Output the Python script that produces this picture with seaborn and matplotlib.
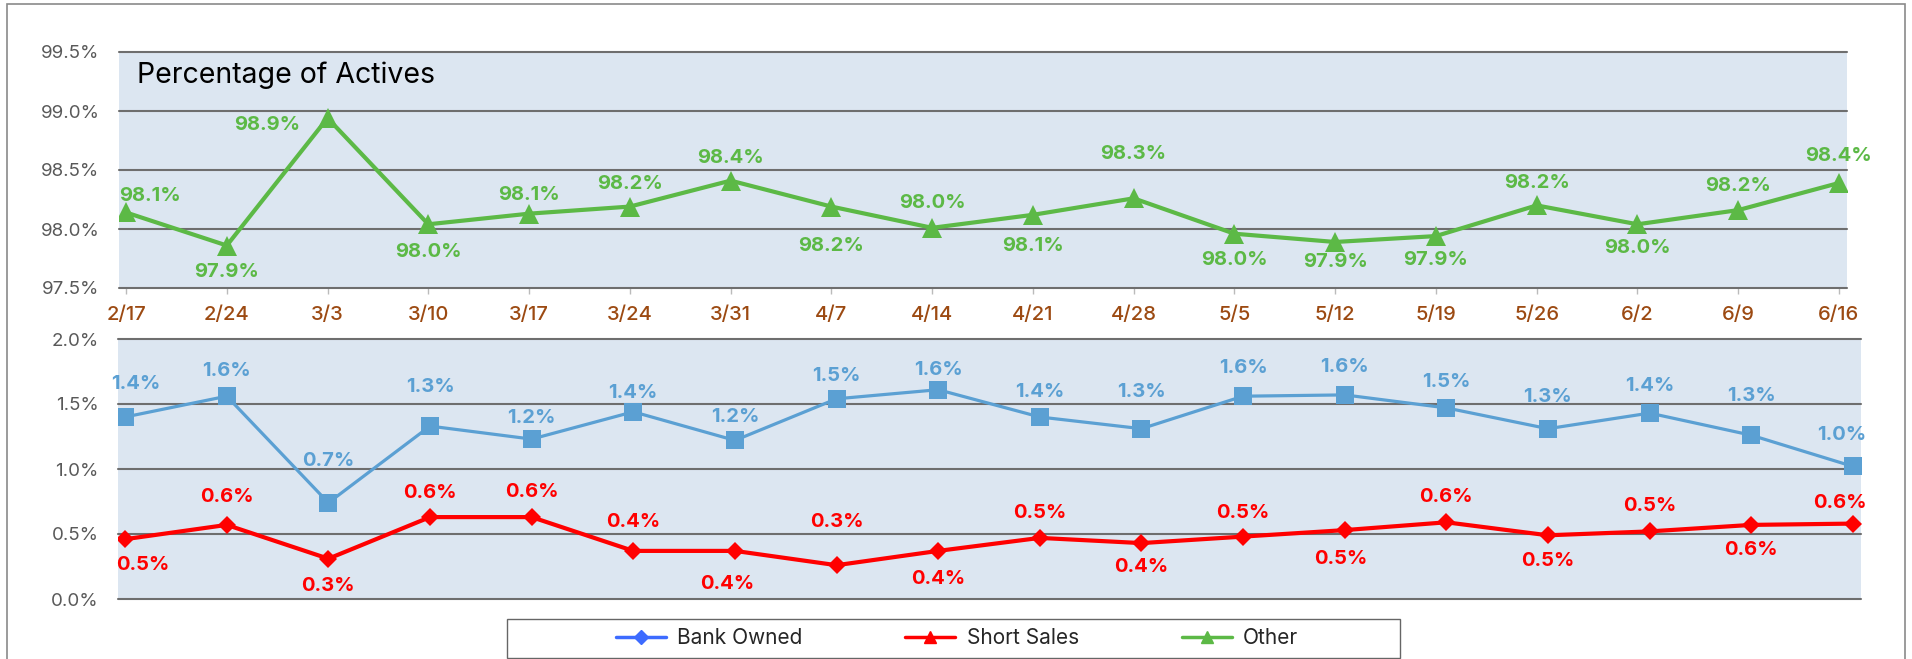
import pandas as pd
import matplotlib
matplotlib.use('Agg')
import matplotlib.pyplot as plt
import seaborn as sns
from matplotlib.lines import Line2D
from matplotlib.patches import Rectangle

# weekly share of active listings (%)
weeks = ['2/17', '2/24', '3/3', '3/10', '3/17', '3/24', '3/31', '4/7', '4/14',
         '4/21', '4/28', '5/5', '5/12', '5/19', '5/26', '6/2', '6/9', '6/16']
other = [98.14, 97.86, 98.94, 98.04, 98.13, 98.19, 98.41, 98.19, 98.01,
         98.12, 98.26, 97.96, 97.89, 97.94, 98.20, 98.04, 98.16, 98.39]
bank_owned = [1.40, 1.56, 0.74, 1.33, 1.23, 1.44, 1.22, 1.54, 1.61,
              1.40, 1.31, 1.56, 1.57, 1.47, 1.31, 1.43, 1.26, 1.02]
short_sales = [0.46, 0.57, 0.31, 0.63, 0.63, 0.37, 0.37, 0.26, 0.37,
               0.47, 0.43, 0.48, 0.53, 0.59, 0.49, 0.52, 0.57, 0.58]

top_ticks = [97.5, 98.0, 98.5, 99.0, 99.5]
bottom_ticks = [0.0, 0.5, 1.0, 1.5, 2.0]

# label offsets in pixels (dx, dy with dy downward), as placed in the original
other_off = [(24, -16), (0, 26), (-60, 7), (0, 28), (0, -19), (0, -23), (0, -23), (0, 39), (0, -25),
             (0, 31), (0, -44), (0, 26), (0, 20), (0, 24), (0, -22), (0, 24), (0, -24), (0, -27)]
bank_off = [(11, -33), (0, -25), (0, -42), (0, -39), (0, -21), (0, -19), (0, -23), (0, -23), (0, -20),
            (0, -25), (0, -37), (0, -28), (0, -28), (0, -26), (0, -32), (0, -27), (0, -39), (-11, -31)]
short_off = [(18, 26), (0, -28), (0, 27), (0, -24), (0, -25), (0, -29), (-8, 33), (0, -43), (0, 28),
             (0, -25), (0, 24), (0, -24), (-4, 29), (0, -25), (0, 26), (0, -25), (0, 25), (-13, -21)]

df = pd.DataFrame({'week': weeks, 'Other': other,
                   'Bank Owned': bank_owned, 'Short Sales': short_sales})

sns.set_theme(style='white')
plt.rcParams['font.family'] = ['Inter', 'DejaVu Sans']

GREEN = '#5cb946'
BLUE = '#5ba0d3'
RED = '#ff0000'
BG = '#dce6f1'
GRID = '#6e6e6e'

W, H = 1912, 659
fig = plt.figure(figsize=(W / 100, H / 100), dpi=100)


def px_axes(left, top, right, bottom):
    return fig.add_axes([left / W, 1 - bottom / H, (right - left) / W, (bottom - top) / H])


ax1 = px_axes(119, 52, 1847, 288)
ax2 = px_axes(118, 339, 1861, 599)


def style_axis(ax, ticks):
    ax.set_facecolor(BG)
    for s in ax.spines.values():
        s.set_visible(False)
    ax.set_ylim(ticks[0], ticks[-1])
    ax.set_yticks(ticks)
    ax.set_yticklabels([f'{t:.1f}%' for t in ticks], fontsize=13.5, color='#595959')
    ax.tick_params(axis='y', length=0, pad=14)
    for t in ticks:
        ax.axhline(t, color=GRID, lw=1.5, clip_on=False, zorder=1)
    ax.set_xlim(-0.07, len(weeks) - 1 + 0.08)
    ax.set_xlabel('')
    ax.set_ylabel('')


def labels(ax, vals, offs, color):
    for i, (v, (dx, dy)) in enumerate(zip(vals, offs)):
        ax.annotate(f'{v:.1f}%', (i, v), xytext=(dx, -dy), textcoords='offset pixels',
                    ha='center', va='center', fontsize=14.5, fontweight='bold', color=color,
                    annotation_clip=False, zorder=5)


sns.lineplot(data=df, x='week', y='Other', ax=ax1, sort=False, color=GREEN, lw=3,
             marker='^', markersize=14, markeredgewidth=0, zorder=3)
style_axis(ax1, top_ticks)
ax1.set_xticks(range(len(weeks)))
ax1.set_xticklabels(weeks, fontsize=14.5, color='#9c4a12', fontweight='medium')
ax1.tick_params(axis='x', length=4, width=1, color='#bbbbbb', pad=9, bottom=True)
labels(ax1, other, other_off, GREEN)

sns.lineplot(data=df, x='week', y='Bank Owned', ax=ax2, sort=False, color=BLUE, lw=2.3,
             marker='s', markersize=13, markeredgewidth=0, zorder=3)
sns.lineplot(data=df, x='week', y='Short Sales', ax=ax2, sort=False, color=RED, lw=3,
             marker='D', markersize=9.5, markeredgewidth=0, zorder=3)
style_axis(ax2, bottom_ticks)
ax2.set_xticks([])
labels(ax2, bank_owned, bank_off, BLUE)
labels(ax2, short_sales, short_off, RED)

fig.text(137 / W, 1 - 75 / H, 'Percentage of Actives', fontsize=20.5, color='black',
         ha='left', va='center')

# legend
handles = [
    Line2D([], [], color='#3d6bff', lw=2.5, marker='D', markersize=7),
    Line2D([], [], color=RED, lw=2.5, marker='^', markersize=8),
    Line2D([], [], color=GREEN, lw=2.5, marker='^', markersize=8),
]
fig.legend(handles, ['Bank Owned', 'Short Sales', 'Other'], ncol=3, frameon=False,
           loc='center', bbox_to_anchor=(957 / W, 1 - 638 / H), fontsize=15,
           handlelength=2.4, handletextpad=0.53, columnspacing=4.95)
fig.patches.append(Rectangle((507 / W, 1 - 658 / H), (1400 - 507) / W, (658 - 619) / H,
                             transform=fig.transFigure, fill=False, ec='#666666', lw=1))

# outer chart frame (bottom edge falls outside the picture)
fig.patches.append(Rectangle((7 / W, -0.05), (1905 - 7) / W, 1.05 - 4 / H,
                             transform=fig.transFigure, fill=False, ec='#8a8a8a', lw=1.2))

fig.savefig('out.png', dpi=100)
